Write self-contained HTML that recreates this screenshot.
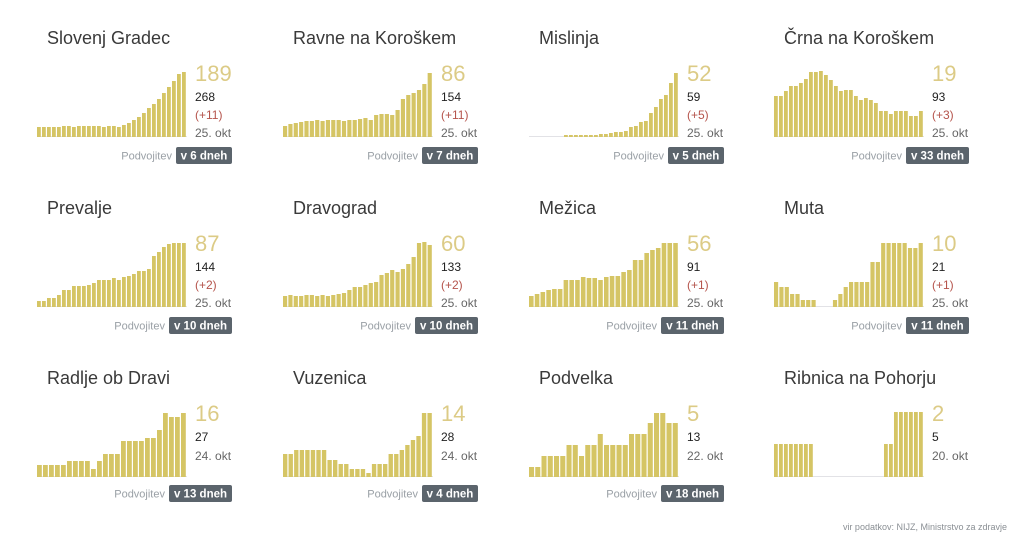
<!DOCTYPE html>
<html><head><meta charset="utf-8"><style>
html,body{margin:0;padding:0;background:#fff;width:1025px;height:534px;overflow:hidden}
svg{display:block}
text{font-family:"Liberation Sans",sans-serif}
</style></head><body>
<svg id="s" width="1025" height="534" xmlns="http://www.w3.org/2000/svg">
<text x="1007" y="530" font-size="9" fill="#8a8f94" text-anchor="end">vir podatkov: NIJZ, Ministrstvo za zdravje</text>
</svg>
<script>
var P=[
["Slovenj Gradec","189","268","(+11)","25. okt","v 6 dneh",[10,10,10,10,10,11,11,10,11,11,11,11,11,10,11,11,10,12,14,17,20,24,29,33,38,44,50,56,63,65]],
["Ravne na Koroškem","86","154","(+11)","25. okt","v 7 dneh",[11,13,14,15,16,16,17,16,17,17,17,16,17,17,18,19,17,22,23,23,22,27,38,42,44,47,53,64]],
["Mislinja","52","59","(+5)","25. okt","v 5 dneh",[0,0,0,0,0,0,0,2,2,2,2,2,2,2,3,3,4,5,5,6,10,11,15,16,24,30,38,42,54,64]],
["Črna na Koroškem","19","93","(+3)","25. okt","v 33 dneh",[41,41,46,51,51,54,58,65,65,66,62,57,51,46,47,47,41,37,39,37,34,26,26,23,26,26,26,21,21,26]],
["Prevalje","87","144","(+2)","25. okt","v 10 dneh",[6,6,9,9,12,17,17,21,21,21,22,24,27,27,27,29,27,30,31,33,36,36,38,51,55,60,63,64,64,64]],
["Dravograd","60","133","(+2)","25. okt","v 10 dneh",[11,12,11,11,12,12,11,12,11,12,13,14,17,20,20,22,24,25,32,34,37,35,38,43,50,64,65,62]],
["Mežica","56","91","(+1)","25. okt","v 11 dneh",[11,13,15,17,18,18,27,27,27,30,29,29,27,30,31,31,35,37,47,47,54,57,59,64,64,64]],
["Muta","10","21","(+1)","25. okt","v 11 dneh",[25,20,20,13,13,7,7,7,0,0,0,7,13,20,25,25,25,25,45,45,64,64,64,64,64,59,59,64]],
["Radlje ob Dravi","16","27","","24. okt","v 13 dneh",[12,12,12,12,12,16,16,16,16,8,16,23,23,23,36,36,36,36,39,39,47,64,60,60,64]],
["Vuzenica","14","28","","24. okt","v 4 dneh",[23,23,27,27,27,27,27,27,17,17,13,13,8,8,8,4,13,13,13,23,23,27,32,37,41,64,64]],
["Podvelka","5","13","","22. okt","v 18 dneh",[10,10,21,21,21,21,32,32,21,32,32,43,32,32,32,32,43,43,43,54,64,64,54,54]],
["Ribnica na Pohorju","2","5","","20. okt","",[33,33,33,33,33,33,33,33,0,0,0,0,0,0,0,0,0,0,0,0,0,0,33,33,65,65,65,65,65,65]]
];
var s=document.getElementById('s'),h='';
P.forEach(function(p,i){
 var c=i%4,r=Math.floor(i/4),x0=[37,283,529,774][c],oy=r*170,base=137+oy;
 h+='<text x="'+(x0+10)+'" y="'+(44+oy)+'" font-size="18" fill="#3a3a3a">'+p[0]+'</text>';
 var d=p[6],n=d.length,pt=150/n,w=pt-1.2;
 h+='<line x1="'+x0+'" x2="'+(x0+150)+'" y1="'+(base-0.5)+'" y2="'+(base-0.5)+'" stroke="#e2e2e6" stroke-width="1"/>';
 d.forEach(function(v,j){if(v>0)h+='<rect x="'+(x0+j*pt).toFixed(2)+'" y="'+(base-v)+'" width="'+w.toFixed(2)+'" height="'+v+'" fill="#d5c565"/>';});
 var tx=x0+158;
 h+='<text x="'+tx+'" y="'+(81+oy)+'" font-size="22" fill="#dccb86">'+p[1]+'</text>';
 h+='<text x="'+tx+'" y="'+(101+oy)+'" font-size="12" fill="#222">'+p[2]+'</text>';
 if(p[3]){h+='<text x="'+tx+'" y="'+(119+oy)+'" font-size="12" fill="#b5544c">'+p[3]+'</text>';
  h+='<text x="'+tx+'" y="'+(137+oy)+'" font-size="12" fill="#666">'+p[4]+'</text>';}
 else h+='<text x="'+tx+'" y="'+(120+oy)+'" font-size="12" fill="#666">'+p[4]+'</text>';
 if(p[5]){var by=147+oy;
  if(r==2)by=485;
  var bw=p[5].length>8?63:56;
  h+='<rect x="'+(x0+195-bw)+'" y="'+by+'" width="'+bw+'" height="17" rx="2" fill="#5b646c"/>';
  h+='<text x="'+(x0+195-bw/2)+'" y="'+(by+12.5)+'" font-size="11.5" font-weight="bold" fill="#fff" text-anchor="middle">'+p[5]+'</text>';
  h+='<text x="'+(x0+195-bw-4)+'" y="'+(by+12.5)+'" font-size="11" fill="#9aa0a6" text-anchor="end">Podvojitev</text>';}
});
s.insertAdjacentHTML('beforeend',h);
</script>
</body></html>
